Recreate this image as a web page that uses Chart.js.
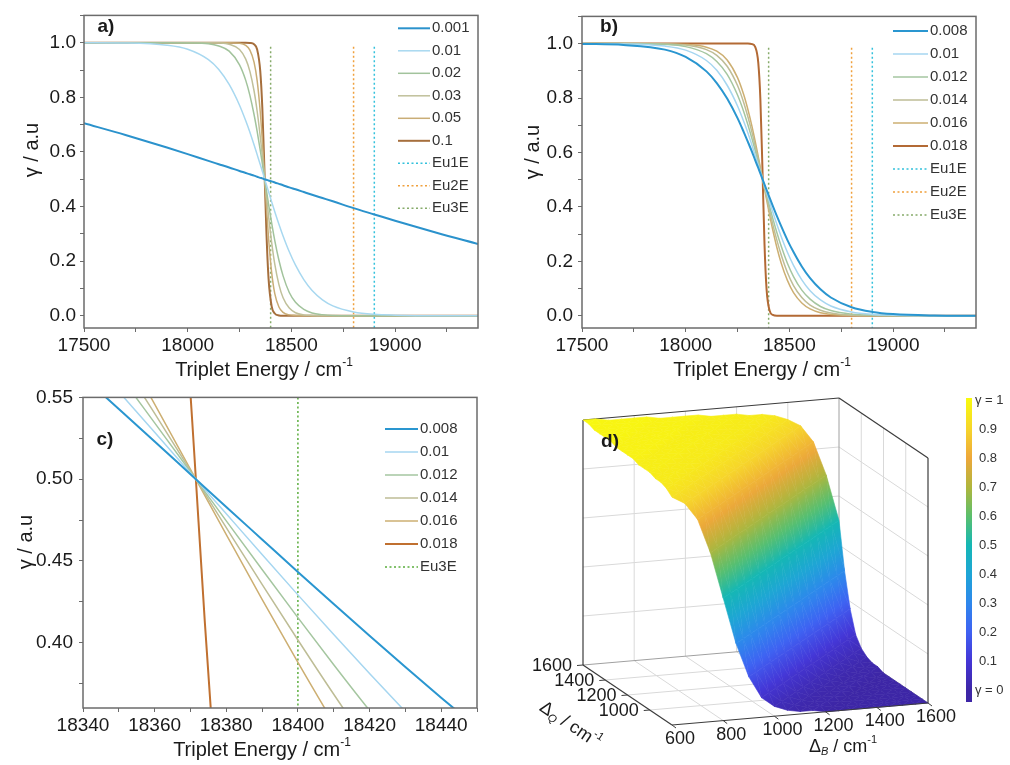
<!DOCTYPE html>
<html>
<head>
<meta charset="utf-8">
<title>gamma vs triplet energy</title>
<script src="https://cdn.jsdelivr.net/npm/chart.js@4.4.1/dist/chart.umd.min.js"></script>
<style>
  body { margin: 0; background: #fff; }
  #fig { position: relative; width: 1010px; height: 765px; overflow: hidden; }
  #fig canvas { position: absolute; }
</style>
</head>
<body>
<div id="fig">
  <canvas id="panelA" width="505" height="380" style="left:0;top:0"></canvas>
  <canvas id="panelB" width="505" height="380" style="left:505px;top:0"></canvas>
  <canvas id="panelC" width="505" height="385" style="left:0;top:380px"></canvas>
  <canvas id="panelD" width="505" height="385" style="left:505px;top:380px"></canvas>
</div>
<script>
const FONT = '"Liberation Sans", Arial, Helvetica, sans-serif';
const INK = '#1a1a1a';

// ---- panels a and b : gamma vs triplet energy (same energy sampling) ----
const energyAB = [17500, 17700, 17900, 18000, 18100, 18150, 18200, 18250, 18280, 18300,
  18320, 18335, 18350, 18360, 18370, 18380, 18390, 18405, 18420, 18440,
  18460, 18490, 18520, 18560, 18600, 18650, 18700, 18800, 18900, 19000,
  19200, 19400];

const gammaA_001 = [0.705, 0.662, 0.616, 0.592, 0.567, 0.555, 0.543, 0.530, 0.523, 0.518,
  0.513, 0.509, 0.505, 0.503, 0.500, 0.498, 0.495, 0.492, 0.488, 0.483,
  0.478, 0.470, 0.463, 0.453, 0.443, 0.431, 0.419, 0.394, 0.371, 0.348,
  0.304, 0.263];
const gammaA_010 = [1.000, 0.999, 0.991, 0.976, 0.938, 0.902, 0.847, 0.771, 0.714, 0.672,
  0.626, 0.590, 0.554, 0.529, 0.504, 0.479, 0.454, 0.417, 0.381, 0.335,
  0.292, 0.234, 0.185, 0.132, 0.092, 0.058, 0.036, 0.014, 0.005, 0.002,
  0.000, 0.000];
const gammaA_020 = [1.000, 1.000, 1.000, 0.999, 0.996, 0.988, 0.969, 0.919, 0.862, 0.807,
  0.737, 0.675, 0.606, 0.557, 0.507, 0.458, 0.409, 0.339, 0.275, 0.203,
  0.146, 0.085, 0.049, 0.023, 0.010, 0.004, 0.001, 0.000, 0.000, 0.000,
  0.000, 0.000];
const gammaA_030 = [1.000, 1.000, 1.000, 1.000, 1.000, 0.999, 0.994, 0.975, 0.940, 0.895,
  0.824, 0.749, 0.656, 0.585, 0.511, 0.437, 0.365, 0.268, 0.189, 0.114,
  0.066, 0.028, 0.011, 0.003, 0.001, 0.000, 0.000, 0.000, 0.000, 0.000,
  0.000, 0.000];
const gammaA_050 = [1.000, 1.000, 1.000, 1.000, 1.000, 1.000, 1.000, 0.998, 0.990, 0.973,
  0.929, 0.861, 0.746, 0.640, 0.519, 0.395, 0.284, 0.158, 0.081, 0.032,
  0.012, 0.003, 0.001, 0.000, 0.000, 0.000, 0.000, 0.000, 0.000, 0.000,
  0.000, 0.000];
const gammaA_100 = [1.000, 1.000, 1.000, 1.000, 1.000, 1.000, 1.000, 1.000, 1.000, 0.999,
  0.994, 0.975, 0.896, 0.760, 0.537, 0.299, 0.136, 0.034, 0.008, 0.001,
  0.000, 0.000, 0.000, 0.000, 0.000, 0.000, 0.000, 0.000, 0.000, 0.000,
  0.000, 0.000];

const gammaB_008 = [0.999, 0.995, 0.978, 0.951, 0.898, 0.855, 0.798, 0.726, 0.675, 0.639,
  0.602, 0.572, 0.543, 0.523, 0.503, 0.483, 0.463, 0.433, 0.404, 0.366,
  0.330, 0.279, 0.234, 0.181, 0.138, 0.097, 0.067, 0.031, 0.014, 0.006,
  0.001, 0.000];
const gammaB_010 = [1.000, 0.999, 0.991, 0.976, 0.938, 0.902, 0.847, 0.771, 0.714, 0.672,
  0.626, 0.590, 0.554, 0.529, 0.504, 0.479, 0.454, 0.417, 0.381, 0.335,
  0.292, 0.234, 0.185, 0.132, 0.092, 0.058, 0.036, 0.014, 0.005, 0.002,
  0.000, 0.000];
const gammaB_012 = [1.000, 1.000, 0.997, 0.989, 0.963, 0.934, 0.887, 0.811, 0.750, 0.702,
  0.650, 0.608, 0.564, 0.534, 0.504, 0.475, 0.445, 0.401, 0.358, 0.305,
  0.257, 0.194, 0.144, 0.094, 0.061, 0.034, 0.019, 0.006, 0.002, 0.001,
  0.000, 0.000];
const gammaB_014 = [1.000, 1.000, 0.999, 0.995, 0.978, 0.957, 0.917, 0.846, 0.783, 0.731,
  0.673, 0.625, 0.575, 0.540, 0.505, 0.470, 0.436, 0.385, 0.336, 0.277,
  0.225, 0.160, 0.111, 0.067, 0.039, 0.020, 0.010, 0.002, 0.001, 0.000,
  0.000, 0.000];
const gammaB_016 = [1.000, 1.000, 0.999, 0.997, 0.987, 0.972, 0.940, 0.875, 0.812, 0.758,
  0.695, 0.642, 0.585, 0.546, 0.506, 0.466, 0.427, 0.369, 0.315, 0.250,
  0.195, 0.131, 0.085, 0.047, 0.025, 0.011, 0.005, 0.001, 0.000, 0.000,
  0.000, 0.000];
const gammaB_018 = [1.000, 1.000, 1.000, 1.000, 1.000, 1.000, 1.000, 1.000, 1.000, 1.000,
  0.998, 0.988, 0.930, 0.799, 0.545, 0.265, 0.098, 0.018, 0.003, 0.000,
  0.000, 0.000, 0.000, 0.000, 0.000, 0.000, 0.000, 0.000, 0.000, 0.000,
  0.000, 0.000];

// Eu excited state energies (dotted markers)
const euLabels = ['Eu1E', 'Eu2E', 'Eu3E'];
const euEnergy = [18900, 18800, 18400];
const euTop = 0.985;

// ---- panel c : zoom on the crossing ----
const energyC = [18340, 18350, 18360, 18370, 18380, 18390, 18400, 18410, 18420, 18430, 18440, 18450];
const gammaC_008 = [0.5627, 0.5429, 0.5230, 0.5030, 0.4830, 0.4631, 0.4432, 0.4236, 0.4042, 0.3851, 0.3663, 0.3480];
const gammaC_010 = [0.5782, 0.5535, 0.5287, 0.5037, 0.4788, 0.4539, 0.4292, 0.4049, 0.3811, 0.3578, 0.3351, 0.3132];
const gammaC_012 = [0.5934, 0.5642, 0.5344, 0.5045, 0.4745, 0.4447, 0.4153, 0.3865, 0.3585, 0.3314, 0.3053, 0.2805];
const gammaC_014 = [0.6085, 0.5747, 0.5402, 0.5052, 0.4703, 0.4356, 0.4016, 0.3684, 0.3365, 0.3060, 0.2771, 0.2499];
const gammaC_016 = [0.6234, 0.5852, 0.5459, 0.5060, 0.4661, 0.4265, 0.3879, 0.3507, 0.3152, 0.2818, 0.2500, 0.2217];
const energyC_018 = [18365, 18368, 18371, 18374, 18377, 18380];
const gammaC_018 = [0.713, 0.620, 0.518, 0.413, 0.317, 0.233];

// ---- panel d : gamma surface over deltaB (columns) x deltaQ (rows) ----
const deltaB = [600, 650, 700, 750, 800, 850, 900, 950, 1000, 1050, 1100, 1150, 1200, 1250, 1300, 1350, 1400, 1450, 1500, 1550, 1600];
const deltaQ = [800, 850, 900, 950, 1000, 1050, 1100, 1150, 1200, 1250, 1300, 1350, 1400, 1450, 1500, 1550, 1600];
const gammaSurf = [
  [0.93, 0.90, 0.83, 0.69, 0.50, 0.31, 0.17, 0.08, 0.04, 0.02, 0.01, 0.01, 0.00, 0.00, 0.00, 0.00, 0.00, 0.00, 0.00, 0.00, 0.00],
  [0.95, 0.93, 0.90, 0.83, 0.69, 0.50, 0.31, 0.17, 0.08, 0.04, 0.02, 0.01, 0.01, 0.00, 0.00, 0.00, 0.00, 0.00, 0.00, 0.00, 0.00],
  [0.96, 0.95, 0.93, 0.90, 0.83, 0.69, 0.50, 0.31, 0.17, 0.08, 0.04, 0.02, 0.01, 0.01, 0.00, 0.00, 0.00, 0.00, 0.00, 0.00, 0.00],
  [0.96, 0.96, 0.95, 0.93, 0.90, 0.83, 0.69, 0.50, 0.31, 0.17, 0.08, 0.04, 0.02, 0.01, 0.01, 0.00, 0.00, 0.00, 0.00, 0.00, 0.00],
  [0.97, 0.96, 0.96, 0.95, 0.93, 0.90, 0.83, 0.69, 0.50, 0.31, 0.17, 0.08, 0.04, 0.02, 0.01, 0.01, 0.00, 0.00, 0.00, 0.00, 0.00],
  [0.97, 0.97, 0.96, 0.96, 0.95, 0.93, 0.90, 0.83, 0.69, 0.50, 0.31, 0.17, 0.08, 0.04, 0.02, 0.01, 0.01, 0.00, 0.00, 0.00, 0.00],
  [0.97, 0.97, 0.97, 0.96, 0.96, 0.95, 0.93, 0.90, 0.83, 0.69, 0.50, 0.31, 0.17, 0.08, 0.04, 0.02, 0.01, 0.01, 0.00, 0.00, 0.00],
  [0.98, 0.97, 0.97, 0.97, 0.96, 0.96, 0.95, 0.93, 0.90, 0.83, 0.69, 0.50, 0.31, 0.17, 0.08, 0.04, 0.02, 0.01, 0.01, 0.00, 0.00],
  [0.98, 0.98, 0.97, 0.97, 0.97, 0.96, 0.96, 0.95, 0.93, 0.90, 0.83, 0.69, 0.50, 0.31, 0.17, 0.08, 0.04, 0.02, 0.01, 0.01, 0.00],
  [0.98, 0.98, 0.98, 0.97, 0.97, 0.97, 0.96, 0.96, 0.95, 0.93, 0.90, 0.83, 0.69, 0.50, 0.31, 0.17, 0.08, 0.04, 0.02, 0.01, 0.01],
  [0.98, 0.98, 0.98, 0.98, 0.97, 0.97, 0.97, 0.96, 0.96, 0.95, 0.93, 0.90, 0.83, 0.69, 0.50, 0.31, 0.17, 0.08, 0.04, 0.02, 0.01],
  [0.99, 0.98, 0.98, 0.98, 0.98, 0.97, 0.97, 0.97, 0.96, 0.96, 0.95, 0.93, 0.90, 0.83, 0.69, 0.50, 0.31, 0.17, 0.08, 0.04, 0.02],
  [0.99, 0.99, 0.98, 0.98, 0.98, 0.98, 0.97, 0.97, 0.97, 0.96, 0.96, 0.95, 0.93, 0.90, 0.83, 0.69, 0.50, 0.31, 0.17, 0.08, 0.04],
  [0.99, 0.99, 0.99, 0.98, 0.98, 0.98, 0.98, 0.97, 0.97, 0.97, 0.96, 0.96, 0.95, 0.93, 0.90, 0.83, 0.69, 0.50, 0.31, 0.17, 0.08],
  [0.99, 0.99, 0.99, 0.99, 0.98, 0.98, 0.98, 0.98, 0.97, 0.97, 0.97, 0.96, 0.96, 0.95, 0.93, 0.90, 0.83, 0.69, 0.50, 0.31, 0.17],
  [1.00, 0.99, 0.99, 0.99, 0.99, 0.98, 0.98, 0.98, 0.98, 0.97, 0.97, 0.97, 0.96, 0.96, 0.95, 0.93, 0.90, 0.83, 0.69, 0.50, 0.31],
  [1.00, 1.00, 0.99, 0.99, 0.99, 0.99, 0.98, 0.98, 0.98, 0.98, 0.97, 0.97, 0.97, 0.96, 0.96, 0.95, 0.93, 0.90, 0.83, 0.69, 0.50]
];
const bTicks = [600, 800, 1000, 1200, 1400, 1600];
const qTicks = [1000, 1200, 1400, 1600];
const zGrid = [0.2, 0.4, 0.6, 0.8];
const cbTicks = [0.1, 0.2, 0.3, 0.4, 0.5, 0.6, 0.7, 0.8, 0.9];

// parula-like colour map
const cmapStops = [0, 0.1, 0.2, 0.3, 0.4, 0.5, 0.6, 0.7, 0.8, 0.9, 1];
const cmapColors = ['#3d26a6', '#4436d6', '#3f61f2', '#2e87ec', '#1ea5d6', '#15b7b4',
  '#5bbf6c', '#b0b63c', '#eea73a', '#f6d52b', '#f8f90f'];

function hexRgb(h) {
  return [parseInt(h.slice(1, 3), 16), parseInt(h.slice(3, 5), 16), parseInt(h.slice(5, 7), 16)];
}
function cmap(v) {
  v = Math.max(0, Math.min(1, v));
  let k = 0;
  while (k < cmapStops.length - 2 && v > cmapStops[k + 1]) k++;
  const t = (v - cmapStops[k]) / (cmapStops[k + 1] - cmapStops[k]);
  const a = hexRgb(cmapColors[k]), b = hexRgb(cmapColors[k + 1]);
  return 'rgb(' + a.map((c, i) => Math.round(c + (b[i] - c) * t)).join(',') + ')';
}

function pts(xs, ys) {
  return xs.map((x, i) => ({ x: x, y: ys[i] }));
}
function curve(label, xs, ys, color, width) {
  return { label: label, data: pts(xs, ys), borderColor: color, borderWidth: width,
    pointRadius: 0, cubicInterpolationMode: 'monotone', fill: false };
}
function marker(label, x, y0, y1, color) {
  return { label: label, data: pts([x, x], [y0, y1]), borderColor: color, borderWidth: 1.5,
    borderDash: [2, 2.5], pointRadius: 0, fill: false };
}

// text made of parts: [text, size, dy, style]
function rich(ctx, parts, cx, cy) {
  const f = p => (p[3] ? p[3] + ' ' : '') + p[1] + 'px ' + FONT;
  let w = 0;
  parts.forEach(p => { ctx.font = f(p); w += ctx.measureText(p[0]).width; });
  let x = cx - w / 2;
  ctx.textAlign = 'left';
  ctx.textBaseline = 'middle';
  parts.forEach(p => {
    ctx.font = f(p);
    ctx.fillText(p[0], x, cy + p[2]);
    x += ctx.measureText(p[0]).width;
  });
}

// frame, legend, axis titles and panel tag
function decor(cfg) {
  return {
    id: 'decor',
    afterDraw(chart) {
      const ctx = chart.ctx, a = chart.chartArea;
      ctx.save();
      ctx.strokeStyle = '#6b6b6b';
      ctx.lineWidth = 1.5;
      ctx.strokeRect(a.left, a.top, a.right - a.left, a.bottom - a.top);

      chart.data.datasets.forEach(function (ds, i) {
        const y = cfg.legY + i * cfg.legStep;
        ctx.beginPath();
        ctx.setLineDash(ds.borderDash || []);
        ctx.strokeStyle = ds.borderColor;
        ctx.lineWidth = ds.borderWidth;
        ctx.moveTo(cfg.legX0, y);
        ctx.lineTo(cfg.legX1, y);
        ctx.stroke();
        ctx.setLineDash([]);
        ctx.fillStyle = '#333';
        ctx.font = '15px ' + FONT;
        ctx.textAlign = 'left';
        ctx.textBaseline = 'middle';
        ctx.fillText(ds.label, cfg.legX1 + 2, y);
      });

      ctx.fillStyle = INK;
      rich(ctx, [['Triplet Energy / cm', 20, 0], ['-1', 12, -7]], cfg.xt[0], cfg.xt[1]);
      ctx.save();
      ctx.translate(cfg.yt[0], cfg.yt[1]);
      ctx.rotate(-Math.PI / 2);
      rich(ctx, [['γ / a.u', 20, 0]], 0, 0);
      ctx.restore();

      ctx.font = 'bold 19px ' + FONT;
      ctx.textAlign = 'center';
      ctx.textBaseline = 'middle';
      ctx.fillText(cfg.tag, cfg.tagX, cfg.tagY);
      ctx.restore();
    }
  };
}

function lineChart(id, datasets, o, deco) {
  const tickFont = { family: FONT, size: 19 };
  const grid = { drawOnChartArea: false, drawTicks: true, tickLength: 4, color: '#6b6b6b', lineWidth: 1 };
  return new Chart(document.getElementById(id), {
    type: 'line',
    data: { datasets: datasets },
    options: {
      responsive: false,
      animation: false,
      events: [],
      layout: { padding: { top: 14, right: o.padRight, left: 0, bottom: 0 } },
      plugins: { legend: { display: false }, tooltip: { enabled: false } },
      scales: {
        x: {
          type: 'linear', min: o.x[0], max: o.x[1],
          grid: grid, border: { display: false },
          afterFit: s => { s.height = o.xHeight; },
          ticks: {
            stepSize: o.x[2], includeBounds: false, autoSkip: false, maxRotation: 0,
            padding: 2, color: INK, font: tickFont,
            callback: v => (Math.round(v) % o.x[3] === 0 ? String(v) : '')
          }
        },
        y: {
          type: 'linear', min: o.y[0], max: o.y[1],
          grid: grid, border: { display: false },
          afterFit: s => { s.width = o.yWidth; },
          ticks: {
            stepSize: o.y[2], includeBounds: false, autoSkip: false,
            padding: o.yPad, color: INK, font: tickFont, callback: o.yFmt
          }
        }
      }
    },
    plugins: [decor(deco)]
  });
}

const fmtAB = v => {
  const k = Math.round(v * 10);
  return (k >= 0 && k % 2 === 0) ? (k / 10).toFixed(1) : '';
};
const fmtC = v => (Math.round(v * 1000) % 50 === 0 ? v.toFixed(2) : '');

// panel a
lineChart('panelA', [
  curve('0.001', energyAB, gammaA_001, '#2b92cc', 2),
  curve('0.01', energyAB, gammaA_010, '#a8d8f0', 1.5),
  curve('0.02', energyAB, gammaA_020, '#a2c39c', 1.5),
  curve('0.03', energyAB, gammaA_030, '#c0c09a', 1.5),
  curve('0.05', energyAB, gammaA_050, '#c9ad76', 1.5),
  curve('0.1', energyAB, gammaA_100, '#a66f3d', 2),
  marker(euLabels[0], euEnergy[0], euTop, -0.045, '#33c1dc'),
  marker(euLabels[1], euEnergy[1], euTop, -0.045, '#f0a03c'),
  marker(euLabels[2], euEnergy[2], euTop, -0.045, '#86ab6a')
], { x: [17500, 19400, 250, 500], y: [-0.045, 1.1, 0.1], yFmt: fmtAB, yWidth: 84, yPad: 4, xHeight: 52, padRight: 27 },
{ legX0: 398, legX1: 430, legY: 28.3, legStep: 22.5, xt: [264, 370], yt: [32, 150], tag: 'a)', tagX: 106, tagY: 27 });

// panel b
lineChart('panelB', [
  curve('0.008', energyAB, gammaB_008, '#2a96d0', 2),
  curve('0.01', energyAB, gammaB_010, '#a6d6f0', 1.5),
  curve('0.012', energyAB, gammaB_012, '#a5c6a0', 1.5),
  curve('0.014', energyAB, gammaB_014, '#bebd96', 1.5),
  curve('0.016', energyAB, gammaB_016, '#cdaf72', 1.5),
  curve('0.018', energyAB, gammaB_018, '#b36a35', 2),
  marker(euLabels[0], euEnergy[0], euTop, -0.045, '#33c1dc'),
  marker(euLabels[1], euEnergy[1], euTop, -0.045, '#f0a03c'),
  marker(euLabels[2], euEnergy[2], euTop, -0.045, '#86ab6a')
], { x: [17500, 19400, 250, 500], y: [-0.045, 1.1, 0.1], yFmt: fmtAB, yWidth: 77, yPad: 5, xHeight: 52, padRight: 34 },
{ legX0: 388, legX1: 423, legY: 31, legStep: 23, xt: [257, 370], yt: [28, 152], tag: 'b)', tagX: 104, tagY: 27 });

// panel c
lineChart('panelC', [
  curve('0.008', energyC, gammaC_008, '#2a96d0', 2),
  curve('0.01', energyC, gammaC_010, '#a6d6f0', 1.5),
  curve('0.012', energyC, gammaC_012, '#a5c6a0', 1.5),
  curve('0.014', energyC, gammaC_014, '#bebd96', 1.5),
  curve('0.016', energyC, gammaC_016, '#cdaf72', 1.5),
  curve('0.018', energyC_018, gammaC_018, '#c07030', 2),
  marker(euLabels[2], euEnergy[2], 0.55, 0.36, '#5aad3c')
], { x: [18340, 18450, 10, 20], y: [0.36, 0.55, 0.025], yFmt: fmtC, yWidth: 83, yPad: 6, xHeight: 57, padRight: 28 },
{ legX0: 385, legX1: 418, legY: 49, legStep: 23, xt: [262, 370], yt: [26, 162], tag: 'c)', tagX: 105, tagY: 60 });

// panel d : projected surface (oblique view) drawn through the chart's scales
const VIEW = { ox: 167, oy: 345, bx: 256, by: -22, qx: -89, qy: -60, zy: -245 };
const CBAR = { x: 461, w: 6, top: 18, bottom: 322, y0: 310, y1: 20 };

const surface3d = {
  id: 'surface3d',
  afterDraw(chart) {
    const ctx = chart.ctx, sx = chart.scales.x, sy = chart.scales.y;
    const bLo = deltaB[0], bHi = deltaB[deltaB.length - 1];
    const qLo = deltaQ[0], qHi = deltaQ[deltaQ.length - 1];
    const norm = (b, q) => [(b - bLo) / (bHi - bLo), (q - qLo) / (qHi - qLo)];
    const P = (b, q, z) => {
      const n = norm(b, q);
      return [sx.getPixelForValue(VIEW.ox + VIEW.bx * n[0] + VIEW.qx * n[1]),
              sy.getPixelForValue(VIEW.oy + VIEW.by * n[0] + VIEW.qy * n[1] + VIEW.zy * z)];
    };
    const seg = (p, r, color, w) => {
      ctx.beginPath();
      ctx.strokeStyle = color;
      ctx.lineWidth = w;
      ctx.moveTo(p[0], p[1]);
      ctx.lineTo(r[0], r[1]);
      ctx.stroke();
    };
    ctx.save();

    // back walls and floor grid
    const GRID = '#d9d9d9';
    zGrid.forEach(z => {
      seg(P(bLo, qHi, z), P(bHi, qHi, z), GRID, 1);
      seg(P(bHi, qHi, z), P(bHi, qLo, z), GRID, 1);
    });
    bTicks.forEach(b => {
      if (b > bLo && b < bHi) {
        seg(P(b, qHi, 0), P(b, qHi, 1), GRID, 1);
        seg(P(b, qLo, 0), P(b, qHi, 0), GRID, 1);
      }
    });
    qTicks.forEach(q => {
      if (q > qLo && q < qHi) {
        seg(P(bHi, q, 0), P(bHi, q, 1), GRID, 1);
        seg(P(bLo, q, 0), P(bHi, q, 0), GRID, 1);
      }
    });
    seg(P(bLo, qHi, 0), P(bHi, qHi, 0), '#a0a0a0', 1);
    seg(P(bHi, qHi, 0), P(bHi, qLo, 0), '#a0a0a0', 1);
    seg(P(bHi, qHi, 0), P(bHi, qHi, 1), '#a0a0a0', 1);
    const EDGE = '#3c3c3c';
    seg(P(bLo, qHi, 0), P(bLo, qHi, 1), EDGE, 1.2);
    seg(P(bLo, qHi, 1), P(bHi, qHi, 1), EDGE, 1.2);
    seg(P(bHi, qHi, 1), P(bHi, qLo, 1), EDGE, 1.2);
    seg(P(bHi, qLo, 0), P(bHi, qLo, 1), EDGE, 1.2);

    // surface: two triangles per cell, painted far to near with a linear colour ramp each
    const vb = -VIEW.qx / VIEW.bx;
    const vz = -(VIEW.by * vb + VIEW.qy) / VIEW.zy;
    const tris = [];
    const vert = (i, j) => {
      const b = deltaB[j], q = deltaQ[i], g = gammaSurf[i][j], n = norm(b, q);
      return { p: P(b, q, g), g: g, d: vb * n[0] + n[1] + vz * g };
    };
    for (let i = 0; i < deltaQ.length - 1; i++) {
      for (let j = 0; j < deltaB.length - 1; j++) {
        const A = vert(i, j), B = vert(i, j + 1), C = vert(i + 1, j + 1), D = vert(i + 1, j);
        [[A, B, C], [A, C, D]].forEach(t => tris.push({ v: t, d: (t[0].d + t[1].d + t[2].d) / 3 }));
      }
    }
    tris.sort((s, t) => t.d - s.d);
    tris.forEach(t => {
      const p0 = t.v[0].p, p1 = t.v[1].p, p2 = t.v[2].p;
      const g0 = t.v[0].g, g1 = t.v[1].g, g2 = t.v[2].g;
      const gmin = Math.min(g0, g1, g2), gmax = Math.max(g0, g1, g2);
      const x1 = p1[0] - p0[0], y1 = p1[1] - p0[1], x2 = p2[0] - p0[0], y2 = p2[1] - p0[1];
      const det = x1 * y2 - x2 * y1;
      let style;
      if (Math.abs(det) < 1e-6 || gmax - gmin < 1e-4) {
        style = cmap((g0 + g1 + g2) / 3);
      } else {
        const d1 = g1 - g0, d2 = g2 - g0;
        const a = (d1 * y2 - d2 * y1) / det, b = (x1 * d2 - x2 * d1) / det;
        const n2 = a * a + b * b;
        style = ctx.createLinearGradient(
          p0[0] + (gmin - g0) * a / n2, p0[1] + (gmin - g0) * b / n2,
          p0[0] + (gmax - g0) * a / n2, p0[1] + (gmax - g0) * b / n2);
        for (let k = 0; k <= 4; k++) style.addColorStop(k / 4, cmap(gmin + (gmax - gmin) * k / 4));
      }
      ctx.beginPath();
      ctx.moveTo(p0[0], p0[1]);
      ctx.lineTo(p1[0], p1[1]);
      ctx.lineTo(p2[0], p2[1]);
      ctx.closePath();
      ctx.fillStyle = style;
      ctx.strokeStyle = style;
      ctx.lineWidth = 0.6;
      ctx.fill();
      ctx.stroke();
    });

    // front axes with ticks and labels
    seg(P(bLo, qLo, 0), P(bHi, qLo, 0), EDGE, 1.2);
    seg(P(bLo, qLo, 0), P(bLo, qHi, 0), EDGE, 1.2);
    ctx.fillStyle = INK;
    ctx.font = '18px ' + FONT;
    ctx.textBaseline = 'middle';
    bTicks.forEach(b => {
      const p = P(b, qLo, 0);
      seg(p, [p[0] + 4, p[1] + 3], EDGE, 1);
      ctx.textAlign = 'center';
      ctx.fillText(String(b), p[0] + 8, p[1] + 14);
    });
    qTicks.forEach(q => {
      const p = P(bLo, q, 0);
      seg(p, [p[0] - 6, p[1] + 0.5], EDGE, 1);
      ctx.textAlign = 'right';
      ctx.fillText(String(q), p[0] - 11, p[1] + 1);
    });
    rich(ctx, [['Δ', 18, 0], ['B', 11, 5, 'italic'], [' / cm', 18, 0], ['-1', 11, -7]],
      sx.getPixelForValue(338), sy.getPixelForValue(367));
    ctx.save();
    ctx.translate(sx.getPixelForValue(65), sy.getPixelForValue(345));
    ctx.rotate(34 * Math.PI / 180);
    rich(ctx, [['Δ', 18, 0], ['Q', 11, 5, 'italic'], [' / cm', 18, 0], ['-1', 11, -7]], 0, 0);
    ctx.restore();

    // colour bar
    const yOf = v => sy.getPixelForValue(CBAR.y0 + (CBAR.y1 - CBAR.y0) * v);
    const grad = ctx.createLinearGradient(0, yOf(0), 0, yOf(1));
    cmapStops.forEach((s, i) => grad.addColorStop(s, cmapColors[i]));
    ctx.fillStyle = grad;
    ctx.fillRect(sx.getPixelForValue(CBAR.x), sy.getPixelForValue(CBAR.top),
      CBAR.w, sy.getPixelForValue(CBAR.bottom) - sy.getPixelForValue(CBAR.top));
    ctx.fillStyle = '#333';
    ctx.font = '13px ' + FONT;
    ctx.textAlign = 'left';
    ctx.textBaseline = 'middle';
    const lx = sx.getPixelForValue(CBAR.x + CBAR.w + 7);
    cbTicks.forEach(v => ctx.fillText(v.toFixed(1), lx, yOf(v)));
    ctx.fillText('γ = 1', lx - 4, yOf(1));
    ctx.fillText('γ = 0', lx - 4, yOf(0));

    ctx.fillStyle = INK;
    ctx.font = 'bold 19px ' + FONT;
    ctx.textAlign = 'center';
    ctx.fillText('d)', sx.getPixelForValue(105), sy.getPixelForValue(62));
    ctx.restore();
  }
};

new Chart(document.getElementById('panelD'), {
  type: 'scatter',
  data: { datasets: [] },
  options: {
    responsive: false,
    animation: false,
    events: [],
    layout: { padding: 0 },
    plugins: { legend: { display: false }, tooltip: { enabled: false } },
    scales: {
      x: { type: 'linear', min: 0, max: 505, display: false },
      y: { type: 'linear', min: 0, max: 385, reverse: true, display: false }
    }
  },
  plugins: [surface3d]
});
</script>
</body>
</html>
